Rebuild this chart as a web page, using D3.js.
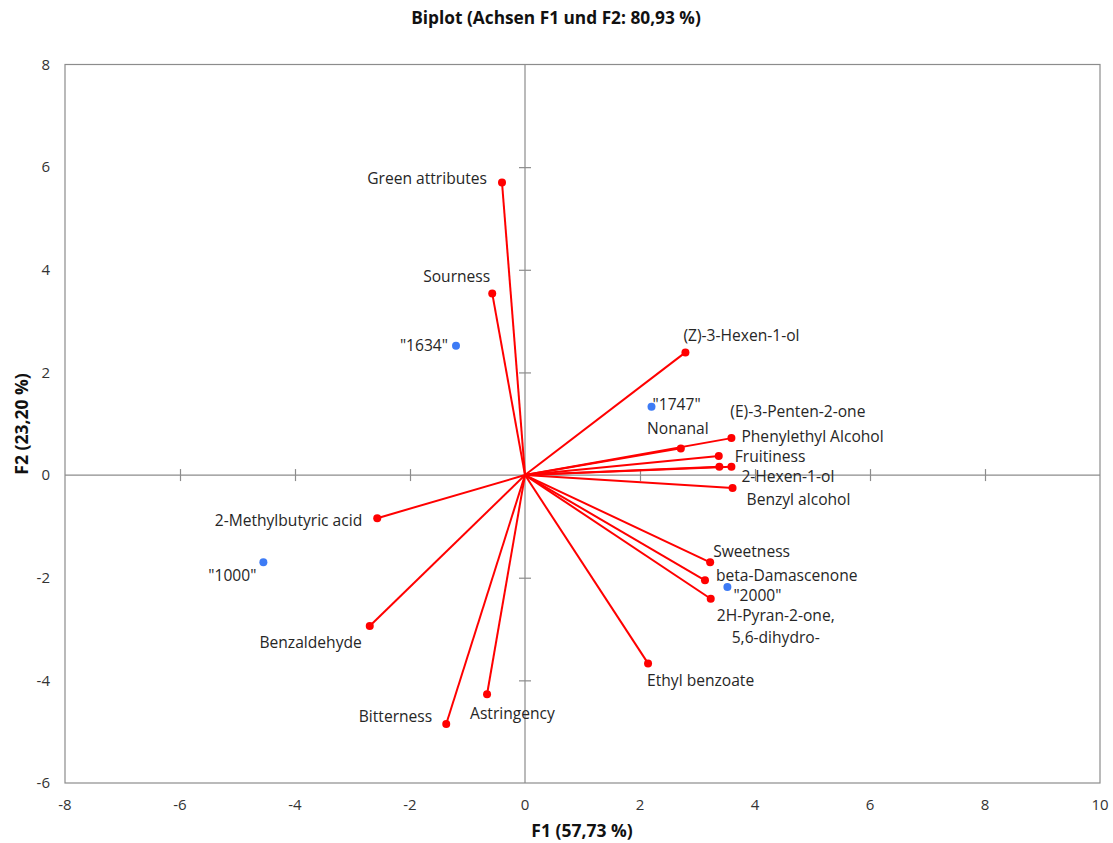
<!DOCTYPE html>
<html>
<head>
<meta charset="utf-8">
<script src="https://cdn.jsdelivr.net/npm/d3@7"></script>
<style>
  body { margin: 0; background: #fff; }
  text { font-family: "Open Sans", "Noto Sans", sans-serif; }
</style>
</head>
<body>
<div id="chart"></div>
<script>
// variables (red vectors)
const varNames = ["Green attributes", "Sourness", "(Z)-3-Hexen-1-ol", "Nonanal",
  "Phenylethyl Alcohol", "Fruitiness", "(E)-3-Penten-2-one", "2-Hexen-1-ol",
  "Benzyl alcohol", "Sweetness", "beta-Damascenone", "2H-Pyran-2-one,\n5,6-dihydro-",
  "Ethyl benzoate", "2-Methylbutyric acid", "Benzaldehyde", "Bitterness", "Astringency"];
const varF1 = [-0.40, -0.57, 2.79, 2.71, 3.59, 3.37, 3.38, 3.59, 3.61, 3.22, 3.13, 3.23,
  2.14, -2.57, -2.70, -1.37, -0.66];
const varF2 = [5.70, 3.54, 2.39, 0.52, 0.72, 0.37, 0.16, 0.16, -0.25, -1.70, -2.05, -2.41,
  -3.67, -0.84, -2.94, -4.85, -4.27];

// observations (blue points)
const obsNames = ['"1634"', '"1747"', '"2000"', '"1000"'];
const obsF1 = [-1.20, 2.20, 3.52, -4.55];
const obsF2 = [2.52, 1.33, -2.18, -1.70];

const xTicks = [-8, -6, -4, -2, 0, 2, 4, 6, 8, 10];
const yTicks = [-6, -4, -2, 0, 2, 4, 6, 8];

// label placement: [dx, dy, anchor] in px from the marker
const labelPos = {
  "Green attributes": [-15, -4, "end"],
  "Sourness": [-2, -17, "end"],
  "(Z)-3-Hexen-1-ol": [-2, -17, "start"],
  "Nonanal": [-3, -20, "middle"],
  "Phenylethyl Alcohol": [10, -2, "start"],
  "Fruitiness": [16, 0, "start"],
  "(E)-3-Penten-2-one": [11, -55, "start"],
  "2-Hexen-1-ol": [10, 10, "start"],
  "Benzyl alcohol": [14, 12, "start"],
  "Sweetness": [3, -11, "start"],
  "beta-Damascenone": [11, -5, "start"],
  "2H-Pyran-2-one,\n5,6-dihydro-": [65, 17, "middle"],
  "Ethyl benzoate": [-1, 17, "start"],
  "2-Methylbutyric acid": [-15, 2, "end"],
  "Benzaldehyde": [-8, 17, "end"],
  "Bitterness": [-14, -7, "end"],
  "Astringency": [-17, 19, "start"],
  '"1634"': [-8, 0, "end"],
  '"1747"': [1, -2, "start"],
  '"2000"': [6, 9, "start"],
  '"1000"': [-7, 13, "end"]
};

const W = 1113, H = 843;
const svg = d3.select('#chart').append('svg').attr('width', W).attr('height', H);

const x = d3.scaleLinear().domain([-8, 10]).range([65, 1100]);
const y = d3.scaleLinear().domain([-6, 8]).range([783, 64.5]);

// frame
svg.append('rect')
  .attr('x', x(-8)).attr('y', y(8))
  .attr('width', x(10) - x(-8)).attr('height', y(-6) - y(8))
  .attr('fill', 'none').attr('stroke', '#8c8c8c').attr('stroke-width', 1.2);

// outer tick labels
svg.append('g').selectAll('text').data(yTicks).join('text')
  .attr('x', 50).attr('y', d => y(d)).attr('dy', '0.35em')
  .attr('text-anchor', 'end').attr('font-size', 15).attr('fill', '#333')
  .text(d => d);
svg.append('g').selectAll('text').data(xTicks).join('text')
  .attr('x', d => x(d)).attr('y', 805).attr('dy', '0.35em')
  .attr('text-anchor', 'middle').attr('font-size', 15).attr('fill', '#333')
  .text(d => d);

// center axes with cross ticks
const axCol = '#8c8c8c';
const hAxis = svg.append('g').attr('transform', `translate(0,${y(0)})`)
  .call(d3.axisBottom(x).tickValues(xTicks.filter(d => d > -8 && d < 10 && d !== 0))
    .tickSize(12).tickFormat(''));
hAxis.selectAll('.tick line').attr('y1', -6).attr('y2', 6);
const vAxis = svg.append('g').attr('transform', `translate(${x(0)},0)`)
  .call(d3.axisLeft(y).tickValues(yTicks.filter(d => d > -6 && d < 8 && d !== 0))
    .tickSize(12).tickFormat(''));
vAxis.selectAll('.tick line').attr('x1', -6).attr('x2', 6);
[hAxis, vAxis].forEach(g => {
  g.selectAll('path, line').attr('stroke', axCol).attr('stroke-width', 1.2);
  g.select('.domain').attr('d', null);
});
svg.append('line').attr('x1', x(-8)).attr('x2', x(10)).attr('y1', y(0)).attr('y2', y(0))
  .attr('stroke', axCol).attr('stroke-width', 1.2);
svg.append('line').attr('x1', x(0)).attr('x2', x(0)).attr('y1', y(8)).attr('y2', y(-6))
  .attr('stroke', axCol).attr('stroke-width', 1.2);

// vectors
const vars = varNames.map((n, i) => ({ name: n, f1: varF1[i], f2: varF2[i] }));
svg.append('g').selectAll('line').data(vars).join('line')
  .attr('x1', x(0)).attr('y1', y(0))
  .attr('x2', d => x(d.f1)).attr('y2', d => y(d.f2))
  .attr('stroke', '#ff0000').attr('stroke-width', 2);
svg.append('g').selectAll('circle').data(vars).join('circle')
  .attr('cx', d => x(d.f1)).attr('cy', d => y(d.f2)).attr('r', 4)
  .attr('fill', '#ff0000');

// observations
const obs = obsNames.map((n, i) => ({ name: n, f1: obsF1[i], f2: obsF2[i] }));
svg.append('g').selectAll('circle').data(obs).join('circle')
  .attr('cx', d => x(d.f1)).attr('cy', d => y(d.f2)).attr('r', 4)
  .attr('fill', '#3d7bf5');

// labels
const labs = svg.append('g').selectAll('text').data(vars.concat(obs)).join('text')
  .attr('font-size', 15.6).attr('fill', '#262626')
  .attr('text-anchor', d => labelPos[d.name][2])
  .attr('transform', d => `translate(${x(d.f1) + labelPos[d.name][0]},${y(d.f2) + labelPos[d.name][1]})`);
labs.each(function (d) {
  const lines = d.name.split('\n');
  d3.select(this).selectAll('tspan').data(lines).join('tspan')
    .attr('x', 0).attr('y', (l, i) => i * 22).attr('dy', '0.35em')
    .text(l => l);
});

// titles
svg.append('text').attr('x', 556).attr('y', 18).attr('dy', '0.35em')
  .attr('text-anchor', 'middle').attr('font-size', 17.3).attr('font-weight', 'bold')
  .attr('fill', '#111').text('Biplot (Achsen F1 und F2: 80,93 %)');
svg.append('text').attr('x', 582).attr('y', 831).attr('dy', '0.35em')
  .attr('text-anchor', 'middle').attr('font-size', 17.5).attr('font-weight', 'bold')
  .attr('fill', '#111').text('F1 (57,73 %)');
svg.append('text').attr('transform', 'translate(22,424) rotate(-90)').attr('dy', '0.35em')
  .attr('text-anchor', 'middle').attr('font-size', 17.5).attr('font-weight', 'bold')
  .attr('fill', '#111').text('F2 (23,20 %)');
</script>
</body>
</html>
